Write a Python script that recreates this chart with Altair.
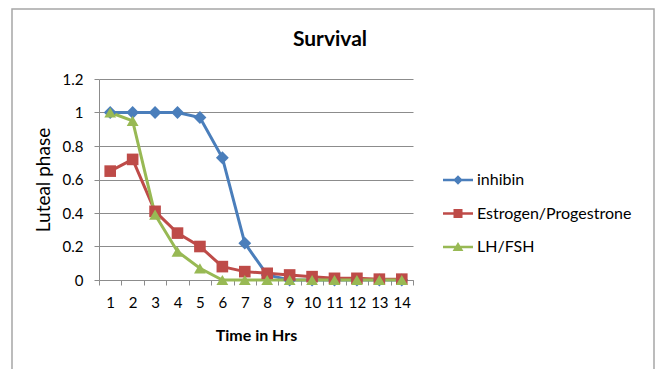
import altair as alt
import pandas as pd

# Hours on the x axis and the three survival series
hours = list(range(1, 15))
series_names = ["inhibin", "Estrogen/Progestrone", "LH/FSH"]
inhibin = [1.0, 1.0, 1.0, 1.0, 0.97, 0.73, 0.22, 0.03, 0.0, 0.0, 0.0, 0.0, 0.0, 0.0]
estrogen_progestrone = [0.65, 0.72, 0.41, 0.28, 0.20, 0.08, 0.05, 0.04, 0.03, 0.02, 0.01, 0.01, 0.005, 0.005]
lh_fsh = [1.0, 0.95, 0.39, 0.17, 0.07, 0.0, 0.0, 0.0, 0.0, 0.0, 0.0, 0.0, 0.0, 0.0]
y_ticks = [0, 0.2, 0.4, 0.6, 0.8, 1.0, 1.2]

colors = ["#4A7EBB", "#BE4B48", "#98B954"]
plot_shapes = ["diamond", "square", "triangle-up"]
# legend glyphs: a short line segment with the series marker on it
legend_shapes = [
    "M-1,-0.09H1V0.09H-1ZM0,-0.32L0.32,0L0,0.32L-0.32,0Z",
    "M-1,-0.09H1V0.09H-1ZM-0.3,-0.3H0.3V0.3H-0.3Z",
    "M-1,-0.09H1V0.09H-1ZM0,-0.34L0.36,0.26H-0.36Z",
]
marker_sizes = [165, 135, 140]

values = {"inhibin": inhibin, "Estrogen/Progestrone": estrogen_progestrone, "LH/FSH": lh_fsh}
df = pd.DataFrame(
    [{"hour": h, "series": s, "value": v} for s in series_names for h, v in zip(hours, values[s])]
)

W, H = 314, 201
FONT = "Lato"

x_enc = alt.X(
    "hour:O",
    scale=alt.Scale(type="band", paddingInner=0, paddingOuter=0),
    axis=alt.Axis(
        title="Time in Hrs", labelAngle=0, tickBand="extent", tickSize=5,
        labelPadding=10, titlePadding=17, titleFontWeight="bold", grid=False,
    ),
)
y_enc = alt.Y(
    "value:Q",
    scale=alt.Scale(domain=[0, 1.2], nice=False),
    axis=alt.Axis(
        title="Luteal phase", values=y_ticks, format="~g", tickSize=5,
        labelPadding=11, titlePadding=9, titleFontWeight="normal", titleFontSize=19,
        grid=True,
    ),
)

base = alt.Chart(df)

lines = base.mark_line(strokeWidth=3).encode(
    x=x_enc, y=y_enc,
    stroke=alt.Stroke("series:N", scale=alt.Scale(domain=series_names, range=colors), legend=None),
)

point_layers = [
    base.transform_filter(alt.datum.series == s)
    .mark_point(shape=shp, filled=True, size=sz, opacity=1)
    .encode(
        x=x_enc, y=y_enc,
        fill=alt.Fill("series:N", scale=alt.Scale(domain=series_names, range=colors), legend=None),
    )
    for s, shp, sz in zip(series_names, plot_shapes, marker_sizes)
]

# invisible layer that only carries the legend
legend_layer = base.mark_point(filled=True, opacity=0).encode(
    x=x_enc, y=y_enc,
    color=alt.Color("series:N", scale=alt.Scale(domain=series_names, range=colors), title=None,
                    legend=alt.Legend(orient="none", legendX=344, legendY=86)),
    shape=alt.Shape("series:N", scale=alt.Scale(domain=series_names, range=legend_shapes), title=None,
                    legend=alt.Legend(orient="none", legendX=344, legendY=86)),
)

# outer chart frame
frame = alt.Chart(pd.DataFrame({"k": [0]})).mark_rect(
    fill=None, stroke="#A6A6A6", strokeWidth=1.5
).encode(x=alt.value(-87), x2=alt.value(555), y=alt.value(-70), y2=alt.value(310))

chart = alt.layer(frame, legend_layer, lines, *point_layers).properties(
    width=W, height=H,
    title=alt.TitleParams(
        "Survival", anchor="middle", frame="group", dx=74, offset=-42,
        font=FONT, fontSize=21, fontWeight="bold", color="#000000",
    ),
    autosize=alt.AutoSizeParams(type="none"),
    padding={"left": 99, "top": 79, "right": 660 - 99 - W, "bottom": 369 - 79 - H},
).configure_view(stroke=None).configure_axis(
    domainColor="#8C8C8C", gridColor="#8C8C8C", tickColor="#8C8C8C",
    labelFont=FONT, labelFontSize=15, labelColor="#000000",
    titleFont=FONT, titleFontSize=16, titleColor="#000000",
).configure_legend(
    labelFont=FONT, labelFontSize=16, labelColor="#000000",
    symbolSize=900, symbolStrokeWidth=0, symbolOpacity=1,
    rowPadding=10.5, labelOffset=4,
)

chart.save("out.html", embed_options={"renderer": "svg", "actions": False})
